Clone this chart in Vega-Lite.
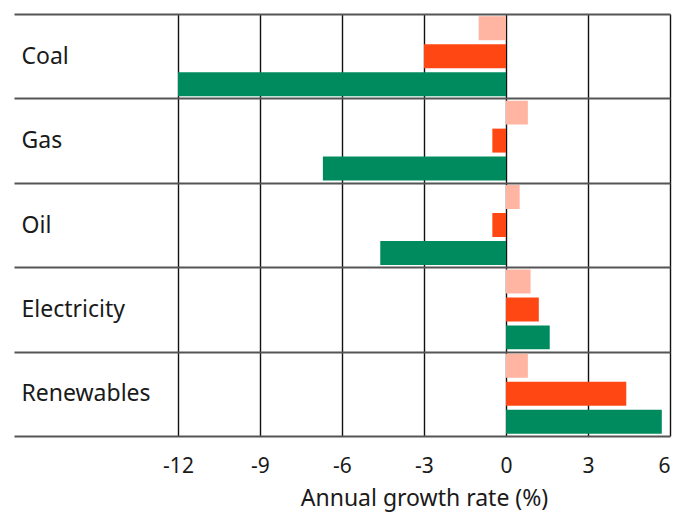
{
  "$schema": "https://vega.github.io/schema/vega-lite/v6.json",
  "autosize": {"type": "none"},
  "width": 656,
  "height": 422,
  "padding": {"left": 14, "top": 14, "right": 9, "bottom": 79},
  "background": "white",
  "config": {
    "font": "Noto Sans",
    "view": {"stroke": null},
    "axis": {"labelFont": "Noto Sans", "titleFont": "Noto Sans", "labelColor": "#1a1a1a", "titleColor": "#1a1a1a", "titleFontWeight": "normal"}
  },
  "data": {
    "values": [
      {"category": "Coal", "series": "Series 1", "value": -1.0},
      {"category": "Coal", "series": "Series 2", "value": -3.0},
      {"category": "Coal", "series": "Series 3", "value": -12.0},
      {"category": "Gas", "series": "Series 1", "value": 0.8},
      {"category": "Gas", "series": "Series 2", "value": -0.5},
      {"category": "Gas", "series": "Series 3", "value": -6.7},
      {"category": "Oil", "series": "Series 1", "value": 0.5},
      {"category": "Oil", "series": "Series 2", "value": -0.5},
      {"category": "Oil", "series": "Series 3", "value": -4.6},
      {"category": "Electricity", "series": "Series 1", "value": 0.9},
      {"category": "Electricity", "series": "Series 2", "value": 1.2},
      {"category": "Electricity", "series": "Series 3", "value": 1.6},
      {"category": "Renewables", "series": "Series 1", "value": 0.8},
      {"category": "Renewables", "series": "Series 2", "value": 4.4},
      {"category": "Renewables", "series": "Series 3", "value": 5.7}
    ]
  },
  "mark": {"type": "bar"},
  "encoding": {
    "y": {
      "field": "category",
      "type": "nominal",
      "sort": ["Coal", "Gas", "Oil", "Electricity", "Renewables"],
      "scale": {"paddingInner": 0, "paddingOuter": 0},
      "axis": {
        "title": null,
        "domain": false,
        "ticks": false,
        "tickSize": 0,
        "labelAlign": "left",
        "labelPadding": -7,
        "labelFontSize": 23,
        "grid": true,
        "tickBand": "extent",
        "gridColor": "#555555",
        "gridWidth": 2,
        "gridOpacity": 1
      }
    },
    "yOffset": {
      "field": "series",
      "type": "nominal",
      "sort": ["Series 1", "Series 2", "Series 3"],
      "scale": {"paddingInner": 0.143, "paddingOuter": 0.08}
    },
    "x": {
      "field": "value",
      "type": "quantitative",
      "scale": {"domain": [-18, 6], "nice": false, "zero": false},
      "axis": {
        "title": "Annual growth rate (%)",
        "values": [-12, -9, -6, -3, 0, 3, 6],
        "labelExpr": "datum.value + ''",
        "domain": false,
        "ticks": false,
        "tickSize": 0,
        "labelPadding": 19,
        "labelFontSize": 21,
        "titleFontSize": 23,
        "titlePadding": 11,
        "titleX": 410,
        "titleAnchor": null,
        "grid": true,
        "gridColor": "#111111",
        "gridWidth": 1.4,
        "gridOpacity": 1
      }
    },
    "color": {
      "field": "series",
      "type": "nominal",
      "scale": {"domain": ["Series 1", "Series 2", "Series 3"], "range": ["#FFB5A1", "#FF4714", "#008B5E"]},
      "legend": null
    }
  }
}
